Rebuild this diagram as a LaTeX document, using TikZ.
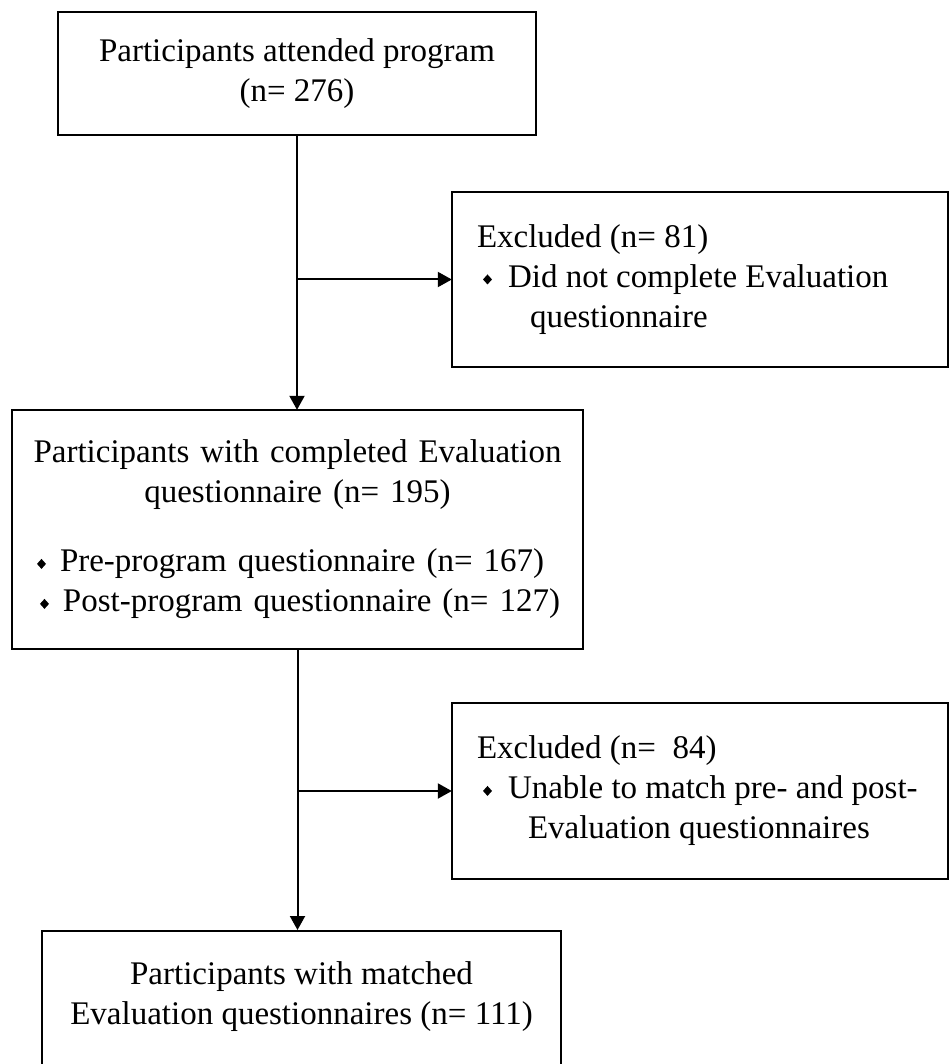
\documentclass[tikz,border=0pt]{standalone}
\usepackage{fontspec}
\setmainfont{Liberation Serif}
\usetikzlibrary{arrows.meta,positioning}

\newcommand{\dmd}{\tikz[baseline={(0pt,-8pt)}]\fill[draw=none] (0pt,0pt) -- (4.5pt,5pt) -- (9pt,0pt) -- (4.5pt,-5pt) -- cycle;}

\begin{document}
\begin{tikzpicture} [x=1pt, y=-1pt, line width=2pt,
         font=\fontsize{33}{40}\selectfont,
         box/.style={draw, rectangle, inner ysep=0pt},
         side/.style={box, text width=446pt, inner xsep=25pt, minimum height=175pt, align=flush left},
         flow/.style={-{Triangle[length=14pt, width=15pt]}}]
   \useasboundingbox (0,0) rectangle (950,1064);
   % main column
   \node[box, minimum width=478pt, minimum height=123pt, align=center] (start) at (297,73.5)
         {Participants attended program\\(n= 276)};
   \node[box, text width=531pt, inner xsep=20pt, minimum height=239pt, align=center] (eval) at (297.5,529.5)
         {\centering Participants with completed Evaluation\\questionnaire (n= 195)\par
          \vspace{29pt}\raggedright
          \mbox{\hspace*{5pt}\dmd\hspace{14pt}Pre-program questionnaire (n= 167)}\\
          \mbox{\hspace*{5pt}\dmd\hspace{14pt}Post-program questionnaire (n= 127)}};
   \node[box, anchor=north, minimum width=519pt, inner ysep=31pt, text depth=150pt, align=center] (match) at (301.5,930)
         {Participants with matched\\Evaluation questionnaires (n= 111)};
   % excluded
   \node[side] (excl1) at (700,279.5)
         {Excluded (n= 81)\\
          \mbox{\hspace*{6pt}\dmd\hspace{16pt}Did not complete Evaluation}\\
          \mbox{\hspace*{53pt}questionnaire}};
   \node[side, minimum height=176pt] (excl2) at (700,791)
         {Excluded (n=\ \ 84)\\
          \mbox{\hspace*{6pt}\dmd\hspace{16pt}Unable to match pre- and post-}\\
          \mbox{\hspace*{51pt}Evaluation questionnaires}};
   % arrows
   \draw[flow] (start.south) -- (start.south |- eval.north);
   \draw[flow] (start.south |- excl1.west) -- (excl1.west);
   \draw[flow] (eval.south) -- (eval.south |- match.north);
   \draw[flow] (eval.south |- excl2.west) -- (excl2.west);
\end{tikzpicture}
\end{document}
